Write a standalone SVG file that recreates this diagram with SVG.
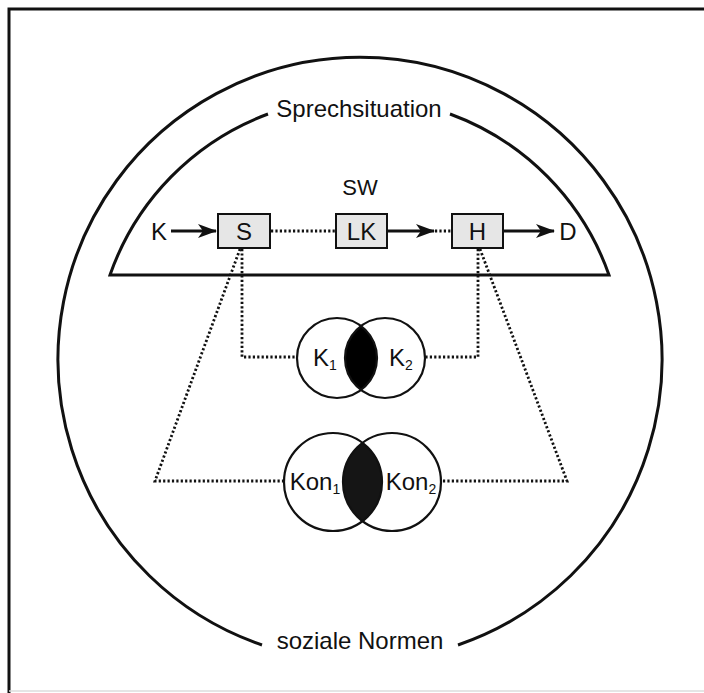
<svg xmlns="http://www.w3.org/2000/svg" width="704" height="693" viewBox="0 0 704 693">
<defs>
<style>
.t{font-family:"Liberation Sans",Arial,sans-serif;fill:#111;text-anchor:middle}
.line{fill:none;stroke:#111;stroke-width:3}
.box{fill:#e6e6e6;stroke:#111;stroke-width:2}
.dot{fill:none;stroke:#111;stroke-width:2.8;stroke-dasharray:2.2 2.2}
.circ{fill:none;stroke:#111;stroke-width:2.2}
.arr{stroke:#111;stroke-width:3;fill:none}
</style>
<marker id="ah" viewBox="0 0 19 14" refX="18" refY="7" markerWidth="19" markerHeight="14" markerUnits="userSpaceOnUse" orient="auto">
<path d="M0,0 L19,7 L0,14 L5,7 Z" fill="#111"/>
</marker>
<clipPath id="k1c"><circle cx="337" cy="358" r="40"/></clipPath>
<clipPath id="kon1c"><circle cx="333" cy="482" r="49"/></clipPath>
</defs>
<rect x="0" y="0" width="704" height="693" fill="#fff"/>
<g id="frame">
<path d="M9,693 V9 H704" fill="none" stroke="#111" stroke-width="3"/>
<line x1="9" y1="691" x2="704" y2="691" stroke="#ddd" stroke-width="1.5"/>
</g>
<g id="soziale-normen">
<path class="line" d="M262,645 A302,302 0 1 1 458,645"/>
<text class="t" x="360" y="649" font-size="24">soziale Normen</text>
</g>
<g id="sprechsituation">
<path class="line" d="M268,114 A265,265 0 0 0 110,275 H609 A265,265 0 0 0 450,114"/>
<text class="t" x="359" y="117" font-size="24">Sprechsituation</text>
<text class="t" x="360" y="195" font-size="22">SW</text>
</g>
<g id="K"><text class="t" x="159" y="240" font-size="24">K</text></g>
<g id="D"><text class="t" x="568" y="240" font-size="24">D</text></g>
<g id="S"><rect class="box" x="218" y="214" width="52" height="34"/><text class="t" x="244" y="240" font-size="24">S</text></g>
<g id="LK"><rect class="box" x="336" y="214" width="51" height="34"/><text class="t" x="361.5" y="240" font-size="24">LK</text></g>
<g id="H"><rect class="box" x="452" y="214" width="51" height="34"/><text class="t" x="477.5" y="240" font-size="24">H</text></g>
<g id="K-circles">
<circle cx="385" cy="358" r="40" fill="#000" clip-path="url(#k1c)"/>
<circle class="circ" cx="337" cy="358" r="40"/>
<circle class="circ" cx="385" cy="358" r="40"/>
<text class="t" x="325" y="366" font-size="24">K<tspan font-size="14" dy="4">1</tspan></text>
<text class="t" x="401" y="366" font-size="24">K<tspan font-size="14" dy="4">2</tspan></text>
</g>
<g id="Kon-circles">
<circle cx="392" cy="482" r="49" fill="#151515" clip-path="url(#kon1c)"/>
<circle class="circ" cx="333" cy="482" r="49"/>
<circle class="circ" cx="392" cy="482" r="49"/>
<text class="t" x="315" y="490" font-size="24">Kon<tspan font-size="14" dy="4">1</tspan></text>
<text class="t" x="411" y="490" font-size="24">Kon<tspan font-size="14" dy="4">2</tspan></text>
</g>
<g id="connectors">
<line class="arr" x1="171" y1="231" x2="216" y2="231" marker-end="url(#ah)"/>
<line class="dot" x1="271" y1="231" x2="335" y2="231"/>
<line class="arr" x1="388" y1="231" x2="434" y2="231" marker-end="url(#ah)"/>
<line class="dot" x1="435" y1="231" x2="451" y2="231"/>
<line class="arr" x1="504" y1="231" x2="554" y2="231" marker-end="url(#ah)"/>
<polyline class="dot" points="242,249 242,357 297,357"/>
<polyline class="dot" points="478,249 478,357 425,357"/>
<polyline class="dot" points="240,249 155,481 284,481"/>
<polyline class="dot" points="480,249 567,481 441,481"/>
</g>
</svg>
